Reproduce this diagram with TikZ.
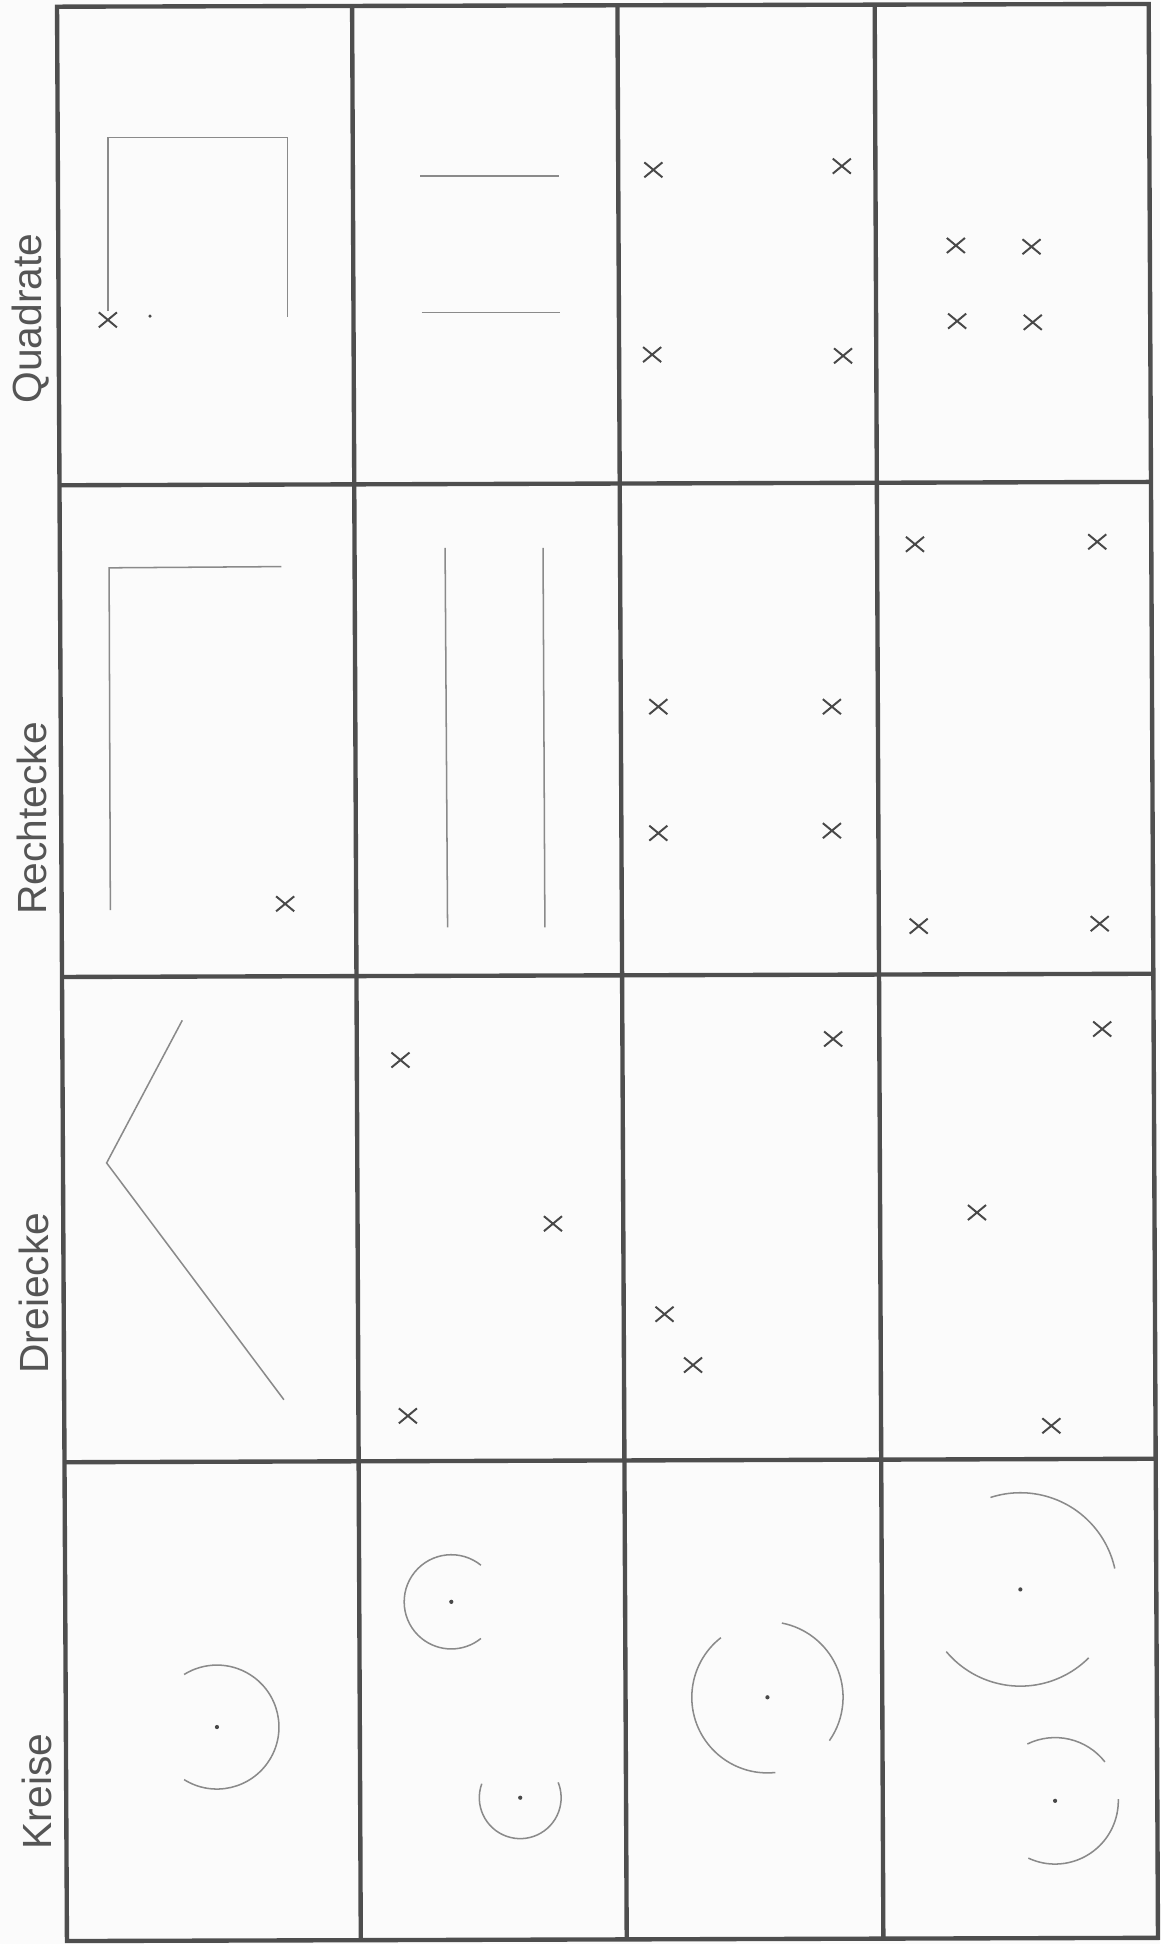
\documentclass[tikz,border=0pt]{standalone}
\usepackage{fontspec}
\setmainfont{Liberation Sans}
\usetikzlibrary{shapes.misc}

\definecolor{papier}{HTML}{FBFBFB}
\definecolor{rahmengrau}{HTML}{4E4E4E}
\definecolor{liniengrau}{HTML}{8A8A8A}
\definecolor{kreuzgrau}{HTML}{484848}
\definecolor{schrift}{HTML}{555555}

\begin{document}
\begin{tikzpicture}[x=0.2mm,y=-0.2mm,
    gridline/.style={draw=rahmengrau,line width=2pt},
    figline/.style={draw=liniengrau,line width=0.7pt},
    kreuz/.style={cross out,draw=kreuzgrau,line width=0.9pt,minimum width=2.6mm,minimum height=2.1mm,inner sep=0pt},
    punkt/.style={fill=kreuzgrau},
    zeile/.style={rotate=90,font=\fontsize{18.7}{22}\selectfont,text=schrift,inner sep=0pt}]

    % Paper
    \fill[papier] (0,0) rectangle (936,1568);
    \useasboundingbox (0,0) rectangle (936,1568);

    % Table frame (skewed a little, as in the scan)
    \draw[gridline] (46,5.4) -- (926.5,3.2) -- (934,1563) -- (54,1565.6) -- cycle;
    \draw[gridline] (284,4.8) -- (291,1564.9);
    \draw[gridline] (498,4.3) -- (505.5,1564.3);
    \draw[gridline] (705.5,3.8) -- (712.5,1563.7);
    \draw[gridline] (48,391.4) -- (928.4,388.7);
    \draw[gridline] (50,788) -- (930.3,785.4);
    \draw[gridline] (52,1179.4) -- (932.1,1176.6);

    % Row labels
    \node[zeile] (quadrate) at (24.5,257) {Quadrate};
    \node[zeile] (rechtecke) at (26,660) {Rechtecke};
    \node[zeile] (dreiecke) at (27.5,1043) {Dreiecke};
    \node[zeile] (kreise) at (30,1445) {Kreise};

    % Quadrate
    \draw[figline] (87,251) -- (87,111) -- (232,111) -- (232,256);
    \node[kreuz] (q11) at (87,258) {};
    \fill[punkt] (121,255) circle[radius=1.4];
    \draw[figline] (339,142) -- (451,142);
    \draw[figline] (340,252) -- (452,252);
    \node[kreuz] (q31) at (527,137) {};
    \node[kreuz] (q32) at (679,134) {};
    \node[kreuz] (q33) at (526,286) {};
    \node[kreuz] (q34) at (680,287) {};
    \node[kreuz] (q41) at (771,198) {};
    \node[kreuz] (q42) at (832,199) {};
    \node[kreuz] (q43) at (772,259) {};
    \node[kreuz] (q44) at (833,260) {};

    % Rechtecke
    \draw[figline] (227,457) -- (88,458) -- (89,734);
    \node[kreuz] (r11) at (230,729) {};
    \draw[figline] (359,442) -- (361,748);
    \draw[figline] (438,442) -- (439.5,748);
    \node[kreuz] (r31) at (531,570) {};
    \node[kreuz] (r32) at (671,570) {};
    \node[kreuz] (r33) at (531,672) {};
    \node[kreuz] (r34) at (671,670) {};
    \node[kreuz] (r41) at (738,439) {};
    \node[kreuz] (r42) at (885,437) {};
    \node[kreuz] (r43) at (741,747) {};
    \node[kreuz] (r44) at (887,745) {};

    % Dreiecke
    \draw[figline] (147,823) -- (86,938) -- (229,1129);
    \node[kreuz] (d21) at (323,855) {};
    \node[kreuz] (d22) at (446,987) {};
    \node[kreuz] (d23) at (329,1142) {};
    \node[kreuz] (d31) at (672,838) {};
    \node[kreuz] (d32) at (536,1060) {};
    \node[kreuz] (d33) at (559,1101) {};
    \node[kreuz] (d41) at (889,830) {};
    \node[kreuz] (d42) at (788,978) {};
    \node[kreuz] (d43) at (848,1150) {};

    % Kreise (angles negated, y axis points down)
    \coordinate (k1) at (175,1393);
    \draw[figline] (k1) ++(122:50) arc[start angle=122,end angle=-122,radius=50];
    \fill[punkt] (k1) circle[radius=1.7];
    \coordinate (k2a) at (364,1292);
    \draw[figline] (k2a) ++(-51:38) arc[start angle=-51,end angle=-309,radius=38];
    \fill[punkt] (k2a) circle[radius=1.7];
    \coordinate (k2b) at (419.6,1450);
    \draw[figline] (k2b) ++(-160:33) arc[start angle=-160,end angle=-382,radius=33];
    \fill[punkt] (k2b) circle[radius=1.7];
    \coordinate (k3) at (619,1369);
    \draw[figline] (k3) ++(35:61) arc[start angle=35,end angle=-79,radius=61];
    \draw[figline] (k3) ++(-128:61) arc[start angle=-128,end angle=-276,radius=61];
    \fill[punkt] (k3) circle[radius=1.7];
    \coordinate (k4a) at (823,1282);
    \draw[figline] (k4a) ++(-12.5:78) arc[start angle=-12.5,end angle=-108,radius=78];
    \draw[figline] (k4a) ++(-220:78) arc[start angle=-220,end angle=-315,radius=78];
    \fill[punkt] (k4a) circle[radius=1.7];
    \coordinate (k4b) at (851,1452.5);
    \draw[figline] (k4b) ++(-38:51) arc[start angle=-38,end angle=-116,radius=51];
    \draw[figline] (k4b) ++(115:51) arc[start angle=115,end angle=-1.5,radius=51];
    \fill[punkt] (k4b) circle[radius=1.7];
\end{tikzpicture}
\end{document}
